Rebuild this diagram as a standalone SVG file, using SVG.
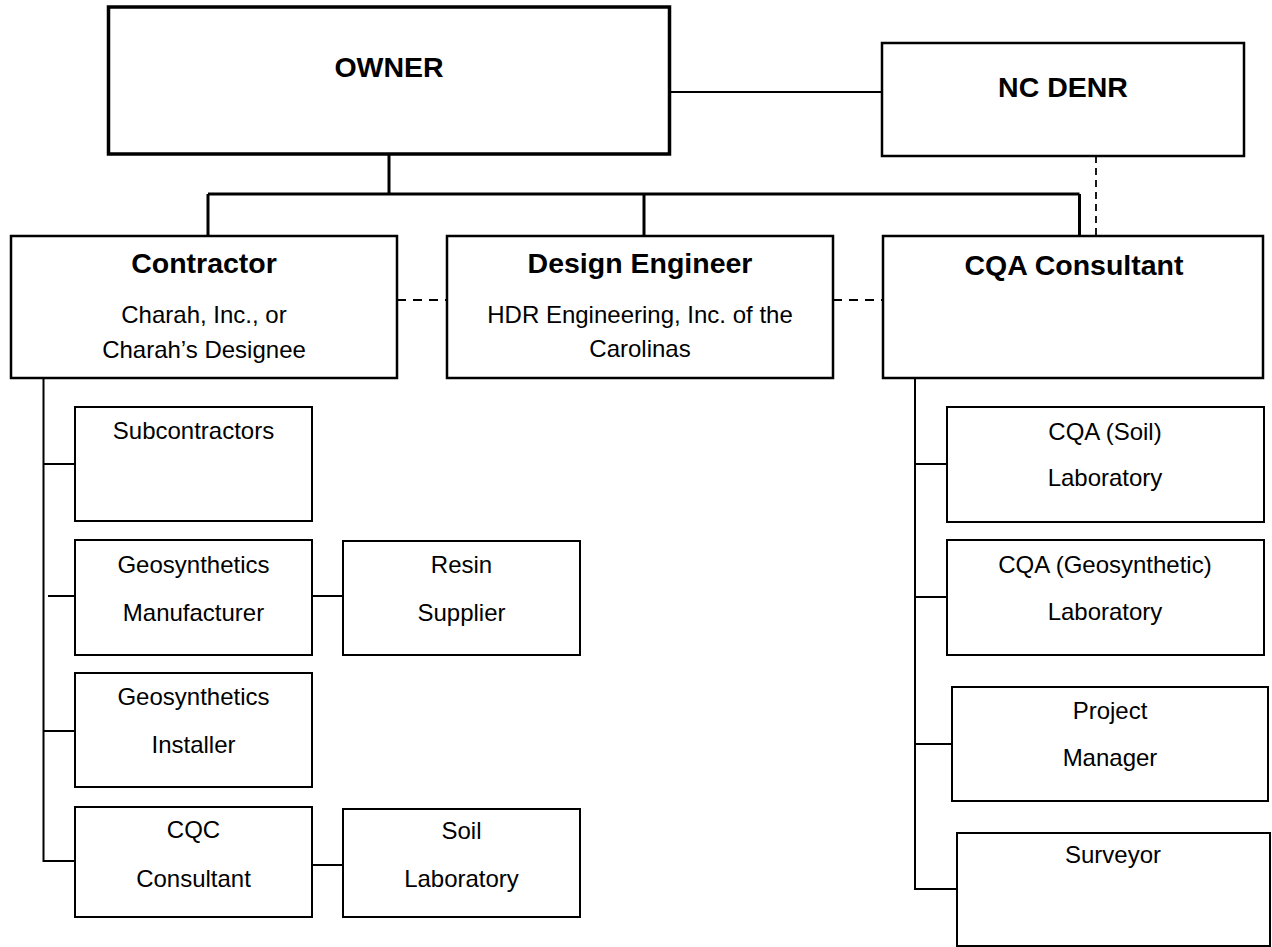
<svg xmlns="http://www.w3.org/2000/svg" width="1272" height="947" viewBox="0 0 1272 947">
<style>
.bg{fill:#fff}
.box{fill:#fff;stroke:#000;stroke-width:2}
.top{stroke-width:2.5}
.owner{stroke-width:3.5}
.ln{fill:none;stroke:#000;stroke-width:2}
.thick{stroke-width:3}
.dash{fill:none;stroke:#000;stroke-width:1.8;stroke-dasharray:9 7}
.vdash{stroke-dasharray:7 5}
.t{font-family:"Liberation Sans",Arial,sans-serif;font-size:24px;fill:#000;text-anchor:middle}
.b{font-weight:bold;font-size:28.5px}
</style>
<rect class="bg" width="1272" height="947"/>
<g id="connectors">
<path class="ln thick" d="M389 155V194M208 194H1079.5M208 194V236M644 194V236M1079.5 194V236"/>
<path class="ln" stroke-width="2.5" d="M670 92H882"/>
<path class="dash vdash" d="M1096 156V236"/>
<path class="dash" d="M397 300H447M833 300H883"/>
<path class="ln" d="M43.5 378V861H75M43.5 464H75M48 596H75M43.5 731H75M312 596H343M312 865H343"/>
<path class="ln" d="M915 378V889H957M915 464H947M915 597H947M915 744H952"/>
</g>
<g id="owner"><rect class="box owner" x="108.5" y="7" width="561" height="147"/><text class="t b" x="389" y="77">OWNER</text></g>
<g id="ncdenr"><rect class="box top" x="882" y="43" width="362" height="113"/><text class="t b" x="1063" y="97">NC DENR</text></g>
<g id="contractor"><rect class="box top" x="11" y="236" width="386" height="142"/><text class="t b" x="204" y="273">Contractor</text><text class="t" x="204" y="323">Charah, Inc., or</text><text class="t" x="204" y="358">Charah’s Designee</text></g>
<g id="design-engineer"><rect class="box top" x="447" y="236" width="386" height="142"/><text class="t b" x="640" y="273">Design Engineer</text><text class="t" x="640" y="323">HDR Engineering, Inc. of the</text><text class="t" x="640" y="357">Carolinas</text></g>
<g id="cqa-consultant"><rect class="box top" x="883" y="236" width="380" height="142"/><text class="t b" x="1074" y="275">CQA Consultant</text></g>
<g id="subcontractors"><rect class="box" x="75" y="407" width="237" height="114"/><text class="t" x="193.5" y="439">Subcontractors</text></g>
<g id="geo-manufacturer"><rect class="box" x="75" y="540" width="237" height="115"/><text class="t" x="193.5" y="573">Geosynthetics</text><text class="t" x="193.5" y="621">Manufacturer</text></g>
<g id="resin-supplier"><rect class="box" x="343" y="541" width="237" height="114"/><text class="t" x="461.5" y="573">Resin</text><text class="t" x="461.5" y="621">Supplier</text></g>
<g id="geo-installer"><rect class="box" x="75" y="673" width="237" height="114"/><text class="t" x="193.5" y="705">Geosynthetics</text><text class="t" x="193.5" y="753">Installer</text></g>
<g id="cqc-consultant"><rect class="box" x="75" y="807" width="237" height="110"/><text class="t" x="193.5" y="838">CQC</text><text class="t" x="193.5" y="887">Consultant</text></g>
<g id="soil-lab"><rect class="box" x="343" y="809" width="237" height="108"/><text class="t" x="461.5" y="839">Soil</text><text class="t" x="461.5" y="887">Laboratory</text></g>
<g id="cqa-soil-lab"><rect class="box" x="947" y="407" width="317" height="115"/><text class="t" x="1105" y="440">CQA (Soil)</text><text class="t" x="1105" y="486">Laboratory</text></g>
<g id="cqa-geo-lab"><rect class="box" x="947" y="540" width="317" height="115"/><text class="t" x="1105" y="573">CQA (Geosynthetic)</text><text class="t" x="1105" y="620">Laboratory</text></g>
<g id="project-manager"><rect class="box" x="952" y="687" width="316" height="114"/><text class="t" x="1110" y="719">Project</text><text class="t" x="1110" y="766">Manager</text></g>
<g id="surveyor"><rect class="box" x="957" y="833" width="313" height="113"/><text class="t" x="1113" y="863">Surveyor</text></g>
</svg>
